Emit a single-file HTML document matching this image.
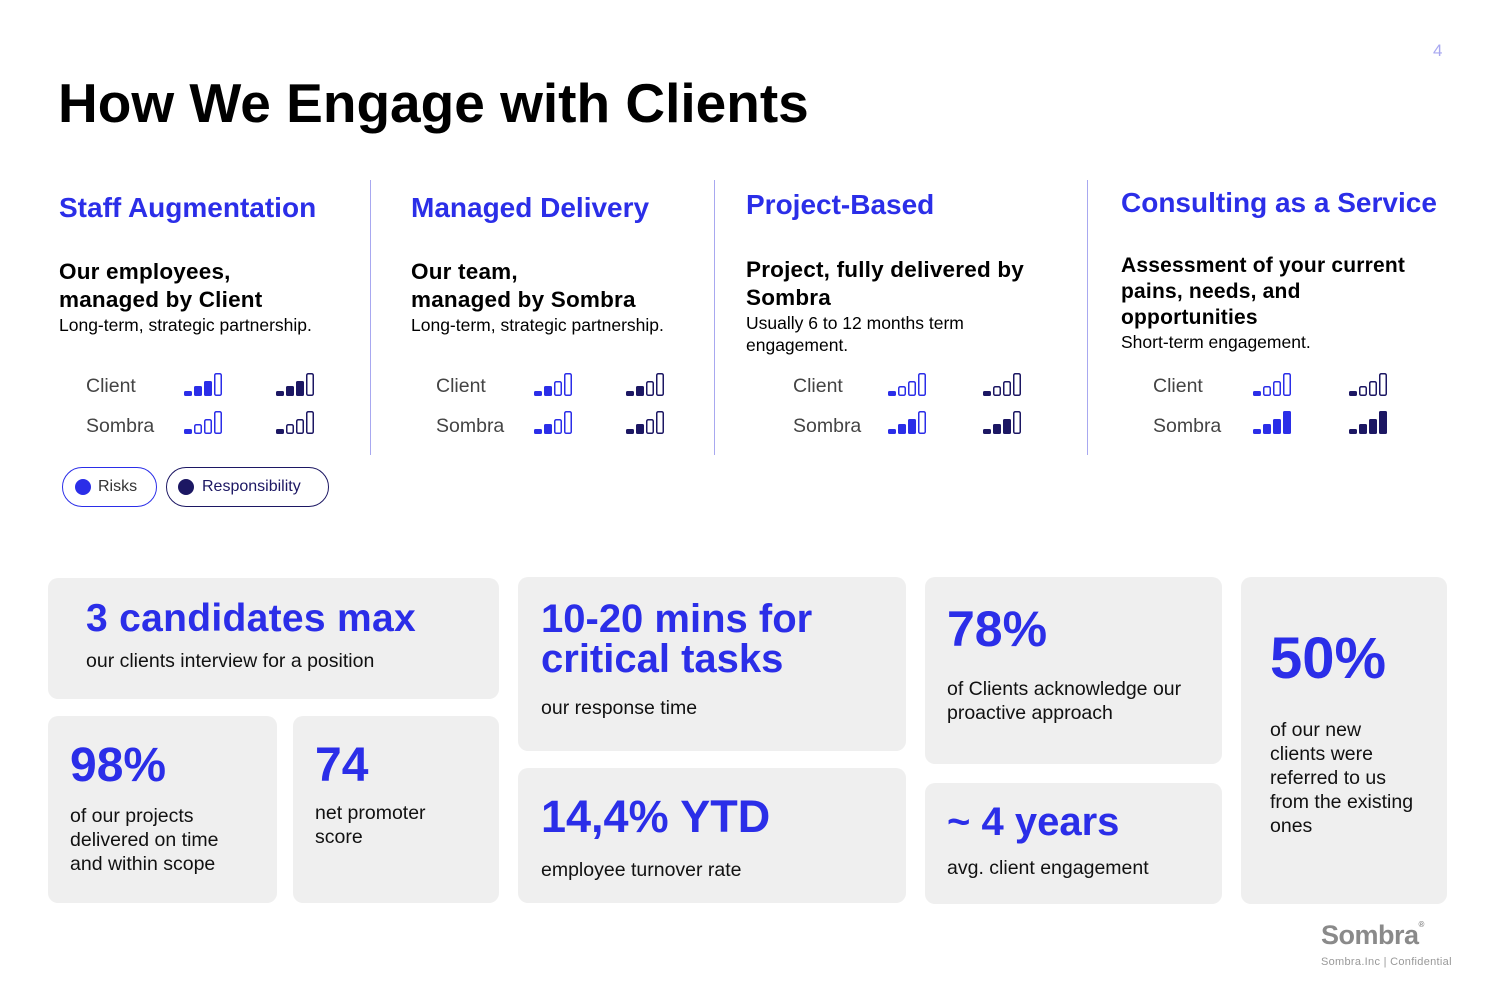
<!DOCTYPE html>
<html><head><meta charset="utf-8"><style>
*{margin:0;padding:0;box-sizing:border-box}
body{width:1500px;height:1000px;background:#fff;font-family:"Liberation Sans",Arial,sans-serif;position:relative;overflow:hidden;color:#000}
.a{position:absolute}
h1{position:absolute;left:58px;top:71px;font-size:55px;font-weight:bold;letter-spacing:0}
.t{position:absolute;color:#2b2ee8;font-weight:bold;font-size:28px;white-space:nowrap}
.b{position:absolute;font-weight:bold;font-size:22.5px;line-height:28px;letter-spacing:0.2px}
.s{position:absolute;font-size:17.5px;line-height:22px}
.l{position:absolute;font-size:19.5px;color:#444}
.vl{position:absolute;top:180px;width:1px;height:275px;background:#a8a8f0}
.card{position:absolute;background:#efefef;border-radius:10px}
.big{position:absolute;color:#2b2ee8;font-weight:bold;white-space:nowrap}
.ct{position:absolute;font-size:19.5px;line-height:24px;color:#111}
</style></head><body>
<div class="a" style="left:1433px;top:41px;color:#a8a8f0;font-size:17px">4</div>
<h1>How We Engage with Clients</h1>

<div class="t" style="left:59px;top:192px">Staff Augmentation</div>
<div class="t" style="left:411px;top:192px">Managed Delivery</div>
<div class="t" style="left:746px;top:189px">Project-Based</div>
<div class="t" style="left:1121px;top:187px">Consulting as a Service</div>
<div class="vl" style="left:370px"></div><div class="vl" style="left:714px"></div><div class="vl" style="left:1087px"></div>

<div class="b" style="left:59px;top:258px">Our employees,<br>managed by Client</div>
<div class="s" style="left:59px;top:314px">Long-term, strategic partnership.</div>
<div class="b" style="left:411px;top:258px">Our team,<br>managed by Sombra</div>
<div class="s" style="left:411px;top:314px">Long-term, strategic partnership.</div>
<div class="b" style="left:746px;top:256px">Project, fully delivered by<br>Sombra</div>
<div class="s" style="left:746px;top:312px">Usually 6 to 12 months term<br>engagement.</div>
<div class="b" style="left:1121px;top:253px;font-size:21px;line-height:26px">Assessment of your current<br>pains, needs, and<br>opportunities</div>
<div class="s" style="left:1121px;top:331px">Short-term engagement.</div>

<div class="l" style="left:86px;top:375px">Client</div><div class="l" style="left:86px;top:415px">Sombra</div>
<div class="l" style="left:436px;top:375px">Client</div><div class="l" style="left:436px;top:415px">Sombra</div>
<div class="l" style="left:793px;top:375px">Client</div><div class="l" style="left:793px;top:415px">Sombra</div>
<div class="l" style="left:1153px;top:375px">Client</div><div class="l" style="left:1153px;top:415px">Sombra</div>

<svg class="a" style="left:0;top:0" width="1500" height="460">
<g id="icons"></g>
</svg>
<script>
var pos=[[184,276,3,1],[534,626,2,2],[888,983,1,3],[1253,1349,1,4]];
var s='';
function icon(x,y,n,c){var h=[5,10,15,23],o='';for(var i=0;i<4;i++){var X=x+i*10,Y=y+24-h[i];if(i<n)o+='<rect x="'+X+'" y="'+Y+'" width="8" height="'+h[i]+'" rx="1.5" fill="'+c+'"/>';else o+='<rect x="'+(X+0.75)+'" y="'+(Y+0.75)+'" width="6.5" height="'+(h[i]-1.5)+'" rx="1.5" fill="none" stroke="'+c+'" stroke-width="1.5"/>';}return o;}
pos.forEach(function(p){s+=icon(p[0],372,p[2],'#2b2ee8')+icon(p[1],372,p[2],'#1c1763')+icon(p[0],410,p[3],'#2b2ee8')+icon(p[1],410,p[3],'#1c1763');});
document.getElementById('icons').innerHTML=s;
</script>

<div class="a" style="left:62px;top:467px;width:95px;height:40px;border:1.5px solid #2b2ee8;border-radius:20px"></div>
<div class="a" style="left:75px;top:479px;width:16px;height:16px;border-radius:50%;background:#2b2ee8"></div>
<div class="a" style="left:98px;top:478px;font-size:16px;color:#333">Risks</div>
<div class="a" style="left:166px;top:467px;width:163px;height:40px;border:1.5px solid #1c1763;border-radius:20px"></div>
<div class="a" style="left:178px;top:479px;width:16px;height:16px;border-radius:50%;background:#1c1763"></div>
<div class="a" style="left:202px;top:478px;font-size:16px;color:#1c1763">Responsibility</div>

<div class="card" style="left:48px;top:578px;width:451px;height:121px"></div>
<div class="big" style="left:86px;top:597px;font-size:39px;letter-spacing:0.3px">3 candidates max</div>
<div class="ct" style="left:86px;top:649px">our clients interview for a position</div>

<div class="card" style="left:48px;top:716px;width:229px;height:187px"></div>
<div class="big" style="left:70px;top:738px;font-size:48px">98%</div>
<div class="ct" style="left:70px;top:804px">of our projects<br>delivered on time<br>and within scope</div>

<div class="card" style="left:293px;top:716px;width:206px;height:187px"></div>
<div class="big" style="left:315px;top:738px;font-size:48px">74</div>
<div class="ct" style="left:315px;top:801px">net promoter<br>score</div>

<div class="card" style="left:518px;top:577px;width:388px;height:174px"></div>
<div class="big" style="left:541px;top:599px;font-size:40px;line-height:40px">10-20 mins for<br>critical tasks</div>
<div class="ct" style="left:541px;top:696px">our response time</div>

<div class="card" style="left:518px;top:768px;width:388px;height:135px"></div>
<div class="big" style="left:541px;top:791px;font-size:45px">14,4% YTD</div>
<div class="ct" style="left:541px;top:858px">employee turnover rate</div>

<div class="card" style="left:925px;top:577px;width:297px;height:187px"></div>
<div class="big" style="left:947px;top:600px;font-size:50px">78%</div>
<div class="ct" style="left:947px;top:677px">of Clients acknowledge our<br>proactive approach</div>

<div class="card" style="left:925px;top:783px;width:297px;height:121px"></div>
<div class="big" style="left:947px;top:800px;font-size:40px">~ 4 years</div>
<div class="ct" style="left:947px;top:856px">avg. client engagement</div>

<div class="card" style="left:1241px;top:577px;width:206px;height:327px"></div>
<div class="big" style="left:1270px;top:625px;font-size:58px">50%</div>
<div class="ct" style="left:1270px;top:718px">of our new<br>clients were<br>referred to us<br>from the existing<br>ones</div>

<div class="a" style="left:1321px;top:920px;font-size:27px;font-weight:bold;color:#8a8a8a;letter-spacing:-0.5px">Sombra<span style="font-size:8px;vertical-align:top">®</span></div>
<div class="a" style="left:1321px;top:956px;font-size:11px;color:#999;letter-spacing:0.3px">Sombra.Inc | Confidential</div>
</body></html>
